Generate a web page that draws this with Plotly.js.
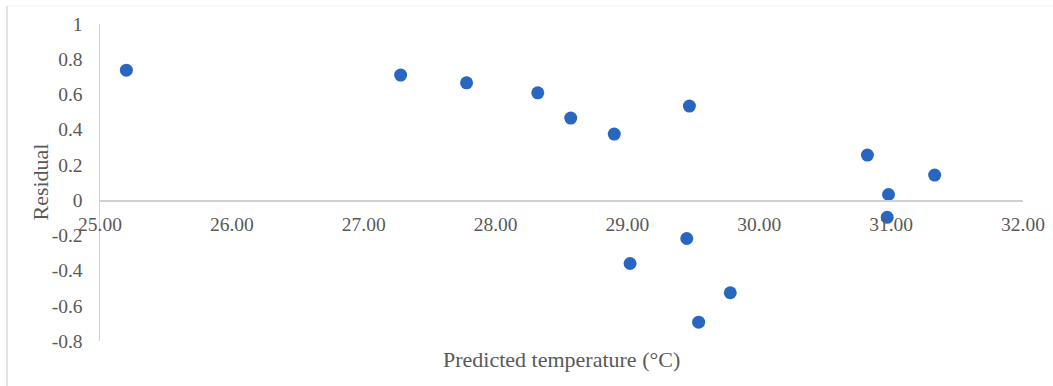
<!DOCTYPE html>
<html>
<head>
<meta charset="utf-8">
<script src="https://cdn.plot.ly/plotly-3.0.1.min.js"></script>
<style>html,body{margin:0;padding:0;background:#fff;}#chart{width:1053px;height:386px;}</style>
</head>
<body>
<div id="chart"></div>
<script>
const predictedTemp = [25.20, 27.28, 27.78, 28.32, 28.57, 28.90, 29.47, 30.82, 31.33, 30.98, 30.97, 29.45, 29.02, 29.78, 29.54];
const residual      = [0.738, 0.710, 0.666, 0.609, 0.466, 0.375, 0.534, 0.256, 0.142, 0.032, -0.098, -0.218, -0.360, -0.526, -0.693];
const xTickVals = [25, 26, 27, 28, 29, 30, 31, 32];
const xTickText = ["25.00", "26.00", "27.00", "28.00", "29.00", "30.00", "31.00", "32.00"];
const yTickVals = [-0.8, -0.6, -0.4, -0.2, 0, 0.2, 0.4, 0.6, 0.8, 1];
const yTickText = ["-0.8", "-0.6", "-0.4", "-0.2", "0", "0.2", "0.4", "0.6", "0.8", "1"];
const xTitle = "Predicted temperature (°C)";
const yTitle = "Residual";

const textColor = "#595959";
const lineColor = "#d0d0d0";
const fontFam = "Liberation Serif, Times New Roman, serif";
const yMin = -0.8, yMax = 1;

const trace = {
  x: predictedTemp,
  y: residual,
  type: "scatter",
  mode: "markers",
  marker: {color: "#2866c0", size: 13},
  hoverinfo: "skip"
};

const layout = {
  width: 1053, height: 386,
  margin: {l: 100, r: 30, t: 24, b: 45},
  paper_bgcolor: "#ffffff", plot_bgcolor: "#ffffff",
  showlegend: false,
  font: {family: fontFam, size: 19.5, color: textColor},
  xaxis: {
    range: [25, 32],
    tickvals: xTickVals, ticktext: xTickText,
    showgrid: false, zeroline: false,
    showline: true, linecolor: lineColor, linewidth: 1.5,
    ticks: "", ticklabelstandoff: 6,
    anchor: "free",
    position: (0 - yMin) / (yMax - yMin),
    tickfont: {family: fontFam, size: 19.5, color: textColor}
  },
  yaxis: {
    range: [yMin, yMax],
    tickvals: yTickVals, ticktext: yTickText,
    showgrid: false, zeroline: false,
    showline: true, linecolor: lineColor, linewidth: 1.5,
    ticks: "", ticklabelstandoff: 12,
    tickfont: {family: fontFam, size: 19.5, color: textColor}
  },
  annotations: [
    {text: xTitle, xref: "paper", yref: "paper", x: 0.5, y: -0.0568, yanchor: "middle", xanchor: "center",
     showarrow: false, font: {family: fontFam, size: 22, color: textColor}},
    {text: yTitle, xref: "paper", yref: "paper", x: -0.065, y: 0.5, xanchor: "center", yanchor: "middle",
     textangle: -90, showarrow: false, font: {family: fontFam, size: 22, color: textColor}}
  ],
  shapes: [
    {type: "line", xref: "paper", yref: "paper", x0: -0.1008, x1: -0.1008, y0: -0.2, y1: 1.0568,
     line: {color: "#d9d9d9", width: 1.5}},
    {type: "line", xref: "paper", yref: "paper", x0: -0.1008, x1: 1.04, y0: 1.0568, y1: 1.0568,
     line: {color: "#f2f2f2", width: 1}}
  ]
};

Plotly.newPlot("chart", [trace], layout, {displayModeBar: false, staticPlot: true});
</script>
</body>
</html>
